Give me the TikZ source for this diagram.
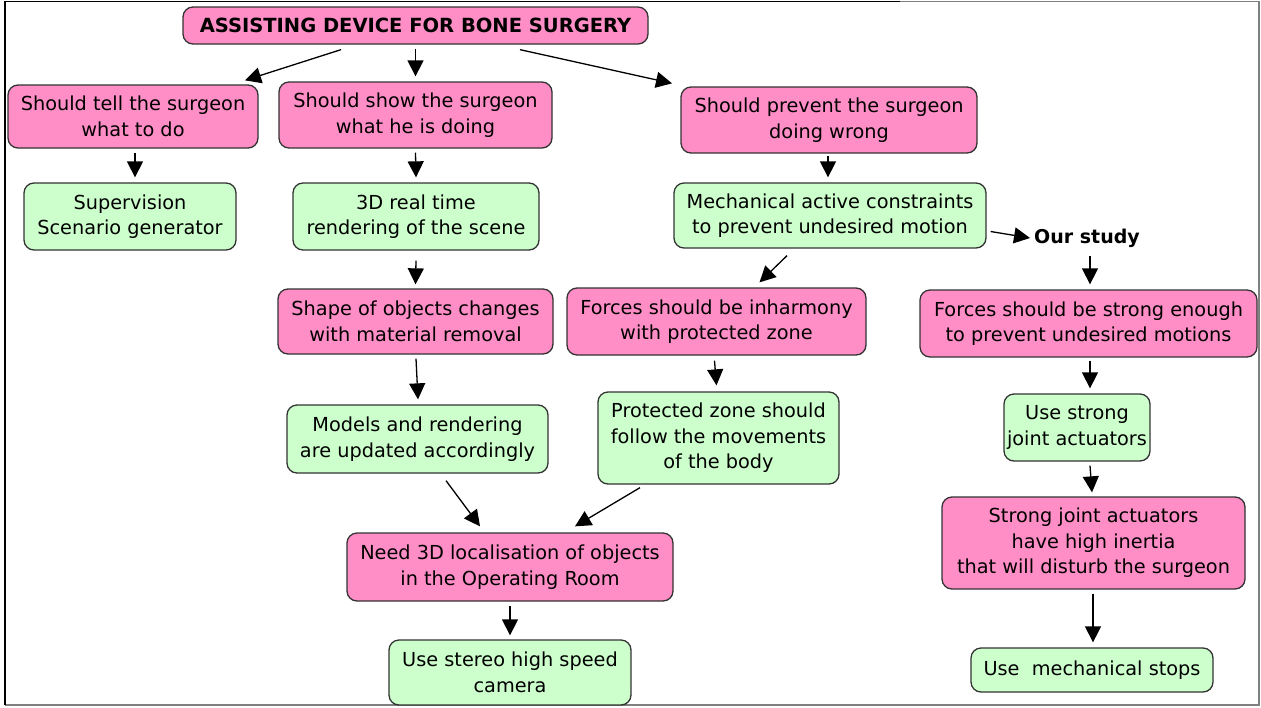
\documentclass[tikz,border=0pt]{standalone}
\usepackage{fontspec}
\setmainfont{DejaVu Sans}
\usetikzlibrary{arrows.meta}
\definecolor{pinkbox}{HTML}{FF8EC6}
\definecolor{greenbox}{HTML}{CCFFCC}
\definecolor{edgecol}{HTML}{333333}
\begin{document}
\begin{tikzpicture}[x=1pt,y=-1pt,
  box/.style={draw=edgecol,line width=1.3pt,rounded corners=10pt,align=center,
    font=\fontsize{19.3}{25.5}\selectfont,inner sep=0pt},
  pbox/.style={box,fill=pinkbox},
  gbox/.style={box,fill=greenbox},
  arr/.style={line width=1.3pt,-{Triangle[length=16pt,width=16pt]}}]
\useasboundingbox (0,0) rectangle (1261,707);
\fill[white] (0,0) rectangle (1261,707);
\draw[gray,line width=1.5pt] (5,1.5) -- (1259,1.5) -- (1259,705) -- (5,705);
\draw[black,line width=2pt] (5,1) -- (5,705);
\draw[black,line width=1.5pt] (5,1.5) -- (900,1.5);

\node[pbox,minimum width=465pt,minimum height=37pt,font=\fontsize{19.5}{22}\selectfont\bfseries] (title) at (415.5,25.5) {ASSISTING DEVICE FOR BONE SURGERY};

\node[pbox,minimum width=250pt,minimum height=63pt] (n1) at (133,116.5) {Should tell the surgeon\\what to do};
\node[pbox,minimum width=273pt,minimum height=66pt] (n2) at (415.5,115) {Should show the surgeon\\what he is doing};
\node[pbox,minimum width=296pt,minimum height=66pt] (n3) at (829,120) {Should prevent the surgeon\\doing wrong};

\node[gbox,minimum width=212pt,minimum height=67pt] (g1) at (130,216.5) {Supervision\\Scenario generator};
\node[gbox,minimum width=246pt,minimum height=67pt] (g2) at (416,216.5) {3D real time\\rendering of the scene};
\node[gbox,minimum width=312pt,minimum height=65pt] (g3) at (830,215.5) {Mechanical active constraints\\to prevent undesired motion};
\node[font=\fontsize{19}{22}\selectfont\bfseries,inner sep=0pt] (study) at (1087,238) {Our study};

\node[pbox,minimum width=275pt,minimum height=65pt] (p4) at (415.5,321.5) {Shape of objects changes\\with material removal};
\node[pbox,minimum width=299pt,minimum height=67pt] (p5) at (716.5,321.5) {Forces should be inharmony\\with protected zone};
\node[pbox,minimum width=337pt,minimum height=67pt] (p6) at (1088.5,323.5) {Forces should be strong enough\\to prevent undesired motions};

\node[gbox,minimum width=261pt,minimum height=68pt] (g4) at (417.5,439) {Models and rendering\\are updated accordingly};
\node[gbox,minimum width=241pt,minimum height=92pt] (g5) at (718.5,438) {Protected zone should\\follow the movements\\of the body};
\node[gbox,minimum width=146pt,minimum height=67pt] (g6) at (1077,427.5) {Use strong\\joint actuators};

\node[pbox,minimum width=326pt,minimum height=68pt] (p7) at (510,567) {Need 3D localisation of objects\\in the Operating Room};
\node[pbox,minimum width=303pt,minimum height=92pt] (p8) at (1093.5,543) {Strong joint actuators\\have high inertia\\that will disturb the surgeon};

\node[gbox,minimum width=242pt,minimum height=65pt] (g7) at (510,672.5) {Use stereo high speed\\camera};
\node[gbox,minimum width=242pt,minimum height=44pt] (g8) at (1092,670) {Use~~mechanical stops};

% connectors
\draw[arr] ([xshift=-74.5pt,yshift=-5pt]title.south) -- ([xshift=112pt,yshift=4pt]n1.north);
\draw[arr] ([yshift=-4pt]title.south) -- ([yshift=5pt]n2.north);
\draw[arr] ([xshift=104.5pt,yshift=-5pt]title.south) -- ([xshift=-157pt,yshift=3pt]n3.north);
\draw[arr] ([xshift=2pt,yshift=-4pt]n1.south) -- ([xshift=5pt,yshift=5pt]g1.north);
\draw[arr] ([yshift=-4pt]n2.south) -- ([yshift=5pt]g2.north);
\draw[arr] ([xshift=-1pt,yshift=-2pt]n3.south) -- ([xshift=-2pt,yshift=5pt]g3.north);
\draw[arr] ([xshift=4pt,yshift=-16pt]g3.east) -- ([xshift=-4pt]study.west);
\draw[arr] ([yshift=-10pt]g2.south) -- ([yshift=4pt]p4.north);
\draw[arr] ([xshift=-43pt,yshift=-7pt]g3.south) -- ([xshift=43pt,yshift=5pt]p5.north);
\draw[arr] ([xshift=3pt,yshift=-9pt]study.south) -- ([xshift=1.5pt,yshift=5pt]p6.north);
\draw[arr] ([xshift=0.5pt,yshift=-4pt]p4.south) -- ([xshift=0.5pt,yshift=5pt]g4.north);
\draw[arr] ([xshift=-2pt,yshift=-5pt]p5.south) -- ([xshift=-2pt,yshift=6pt]g5.north);
\draw[arr] ([xshift=1.5pt,yshift=-3pt]p6.south) -- ([xshift=13pt,yshift=5pt]g6.north);
\draw[arr] ([xshift=13pt,yshift=-4pt]g6.south) -- ([xshift=-1.5pt,yshift=4pt]p8.north);
\draw[arr] ([xshift=28.5pt,yshift=-7pt]g4.south) -- ([xshift=-30pt,yshift=6pt]p7.north);
\draw[arr] ([xshift=-78.5pt,yshift=-3pt]g5.south) -- ([xshift=65pt,yshift=6pt]p7.north);
\draw[arr] ([yshift=-4pt]p7.south) -- ([yshift=4pt]g7.north);
\draw[arr] ([xshift=-0.5pt,yshift=-4pt]p8.south) -- ([xshift=1pt,yshift=5pt]g8.north);
\end{tikzpicture}
\end{document}
